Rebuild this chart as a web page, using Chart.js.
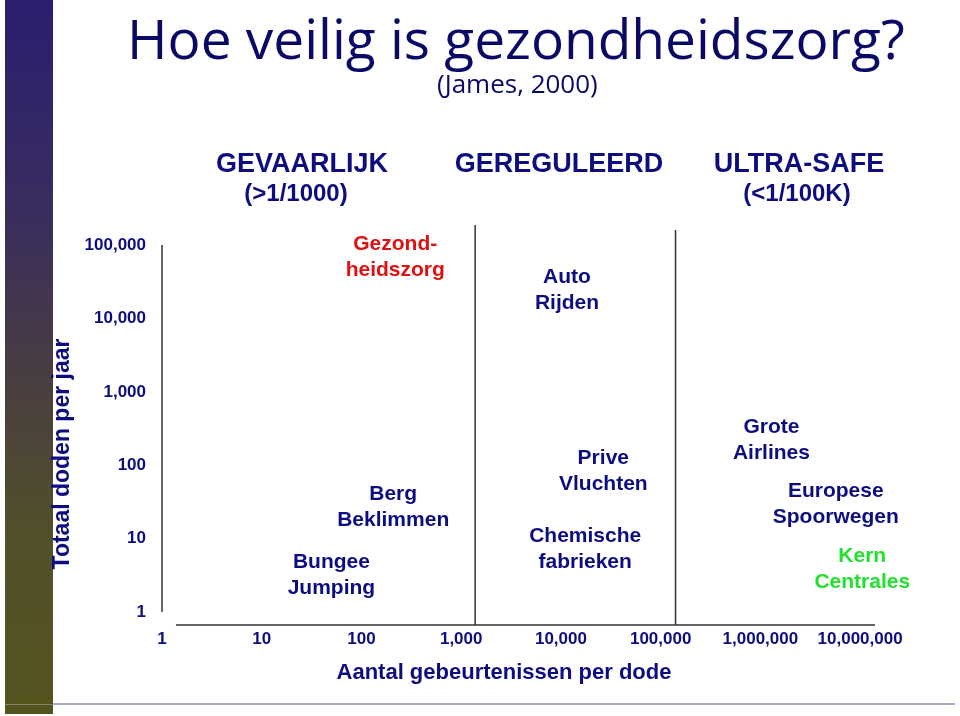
<!DOCTYPE html>
<html>
<head>
<meta charset="utf-8">
<script src="https://cdn.jsdelivr.net/npm/chart.js@4.4.0/dist/chart.umd.min.js"></script>
<style>
  html, body { margin: 0; padding: 0; background: #fff; overflow: hidden; }
  canvas { display: block; }
</style>
</head>
<body>
<canvas id="safety" width="960" height="716"></canvas>
<script>
// tick labels of both log axes
const xTicks = [1, 10, 100, 1000, 10000, 100000, 1000000, 10000000];
const yTicks = [1, 10, 100, 1000, 10000, 100000];

// axis extents (log scale)
const xMin = 1, xMax = 1.41e7;
const yMin = 0.665, yMax = 187500;

// borders between the three zones (events per death)
const zoneBorders = [1380, 141000];

// activities placed on the chart
const activityNames = [
  ['Gezond-', 'heidszorg'],
  ['Auto', 'Rijden'],
  ['Prive', 'Vluchten'],
  ['Chemische', 'fabrieken'],
  ['Berg', 'Beklimmen'],
  ['Bungee', 'Jumping'],
  ['Grote', 'Airlines'],
  ['Europese', 'Spoorwegen'],
  ['Kern', 'Centrales']
];
const eventsPerDeath = [218, 11500, 26600, 17500, 208, 50, 1290000, 5700000, 10500000];
const deathsPerYear  = [69000, 24400, 83, 7.2, 27, 3.2, 220, 29.6, 3.85];
const activityColors = ['#e01010', '#0d0d80', '#0d0d80', '#0d0d80', '#0d0d80', '#0d0d80', '#0d0d80', '#0d0d80', '#22e030'];

const NAVY = '#0d0d80';
const SANS = '"Liberation Sans", Arial, sans-serif';

function vline(x, y0, y1) { return [{ x: x, y: y0 }, { x: x, y: y1 }]; }

const lineStyle = { type: 'line', showLine: true, pointRadius: 0, borderColor: '#333', borderWidth: 1.5, clip: false };

// slide decoration + all the text that isn't a tick label
const slideText = {
  id: 'slideText',
  beforeDraw(chart) {
    const ctx = chart.ctx;
    ctx.save();
    ctx.fillStyle = '#fff';
    ctx.fillRect(0, 0, chart.width, chart.height);
    // left bar
    const g = ctx.createLinearGradient(0, 0, 0, 714);
    g.addColorStop(0, '#2a1e70');
    g.addColorStop(0.3, '#3a2d5e');
    g.addColorStop(0.55, '#4a3f3e');
    g.addColorStop(0.75, '#51502a');
    g.addColorStop(1, '#54541e');
    ctx.fillStyle = g;
    ctx.fillRect(5, 0, 48, 714);
    // bottom rule
    ctx.strokeStyle = '#acacc0';
    ctx.lineWidth = 2;
    ctx.beginPath();
    ctx.moveTo(53, 704);
    ctx.lineTo(955, 704);
    ctx.stroke();
    ctx.strokeStyle = 'rgba(180,180,200,0.5)';
    ctx.lineWidth = 1;
    ctx.beginPath();
    ctx.moveTo(5, 704.5);
    ctx.lineTo(53, 704.5);
    ctx.stroke();
    ctx.restore();
  },
  afterDraw(chart) {
    const ctx = chart.ctx;
    ctx.save();
    ctx.textBaseline = 'alphabetic';
    ctx.textAlign = 'left';
    ctx.fillStyle = '#0a0a66';
    ctx.font = '400 55px "Open Sans", "Noto Sans", sans-serif';
    ctx.fillText('Hoe veilig is gezondheidszorg?', 127, 59);
    ctx.font = '400 26px "Open Sans", "Noto Sans", sans-serif';
    ctx.fillText('(James, 2000)', 437, 93);

    ctx.fillStyle = NAVY;
    ctx.textAlign = 'center';
    ctx.textBaseline = 'middle';
    ctx.font = 'bold 27px ' + SANS;
    ctx.fillText('GEVAARLIJK', 302, 165);
    ctx.fillText('GEREGULEERD', 559, 165);
    ctx.fillText('ULTRA-SAFE', 799, 165);
    ctx.font = 'bold 24px ' + SANS;
    ctx.fillText('(>1/1000)', 296, 194);
    ctx.fillText('(<1/100K)', 797, 194);

    // axis titles
    ctx.font = 'bold 22px ' + SANS;
    ctx.fillText('Aantal gebeurtenissen per dode', 504, 673);
    ctx.translate(63, 454);
    ctx.rotate(-Math.PI / 2);
    ctx.font = 'bold 23px ' + SANS;
    ctx.fillText('Totaal doden per jaar', 0, 0);
    ctx.restore();

    // activity labels at their data positions
    const meta = chart.getDatasetMeta(0);
    ctx.save();
    ctx.textAlign = 'center';
    ctx.textBaseline = 'middle';
    ctx.font = 'bold 21px ' + SANS;
    meta.data.forEach((pt, i) => {
      ctx.fillStyle = activityColors[i];
      const lines = activityNames[i];
      lines.forEach((t, k) => {
        ctx.fillText(t, pt.x, pt.y + (k - (lines.length - 1) / 2) * 26);
      });
    });
    ctx.restore();
  }
};

new Chart(document.getElementById('safety'), {
  type: 'scatter',
  data: {
    datasets: [
      {
        label: 'activiteiten',
        data: eventsPerDeath.map((x, i) => ({ x: x, y: deathsPerYear[i] })),
        pointRadius: 0
      },
      Object.assign({ label: 'y-as', data: vline(xMin, yTicks[0], yTicks[yTicks.length - 1]) }, lineStyle),
      Object.assign({ label: 'x-as', data: [{ x: 1.38, y: yMin }, { x: xMax, y: yMin }] }, lineStyle),
      Object.assign({ label: 'grens 1', data: vline(zoneBorders[0], yMin, yMax) }, lineStyle),
      Object.assign({ label: 'grens 2', data: vline(zoneBorders[1], yMin, 1.6e5) }, lineStyle)
    ]
  },
  options: {
    responsive: false,
    devicePixelRatio: 1,
    animation: false,
    layout: { padding: { top: 225, right: 85, left: 0, bottom: 0 } },
    plugins: { legend: { display: false }, tooltip: { enabled: false } },
    scales: {
      x: {
        type: 'logarithmic',
        min: xMin,
        max: xMax,
        border: { display: false },
        grid: { display: false, drawTicks: false },
        afterBuildTicks: s => { s.ticks = xTicks.map(v => ({ value: v })); },
        afterFit: s => { s.height = 91; },
        ticks: {
          autoSkip: false,
          maxRotation: 0,
          padding: 4,
          color: NAVY,
          font: { family: SANS, size: 17, weight: 'bold' },
          callback: v => Number(v).toLocaleString('en-US')
        }
      },
      y: {
        type: 'logarithmic',
        min: yMin,
        max: yMax,
        border: { display: false },
        grid: { display: false, drawTicks: false },
        afterBuildTicks: s => { s.ticks = yTicks.map(v => ({ value: v })); },
        afterFit: s => { s.width = 162; },
        ticks: {
          autoSkip: false,
          padding: 16,
          color: NAVY,
          font: { family: SANS, size: 17, weight: 'bold' },
          callback: v => Number(v).toLocaleString('en-US')
        }
      }
    }
  },
  plugins: [slideText]
});
</script>
</body>
</html>
